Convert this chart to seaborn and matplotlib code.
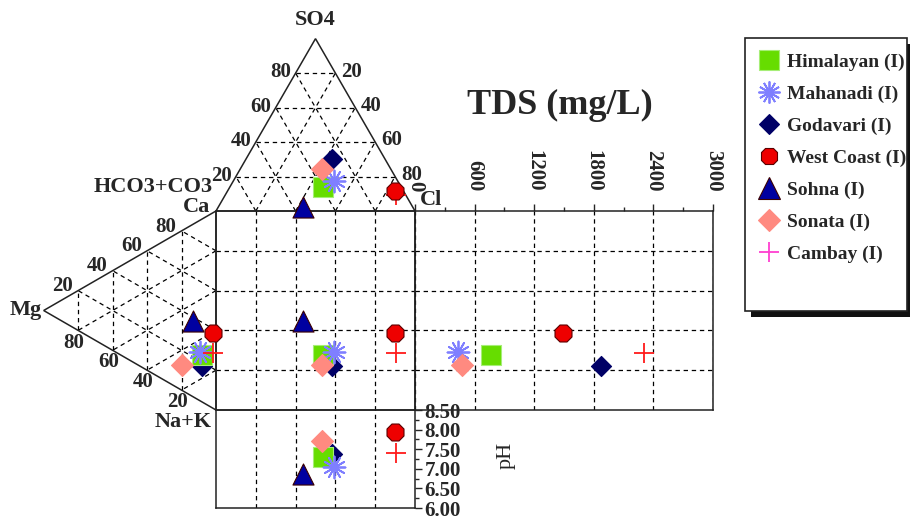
import numpy as np
import pandas as pd
import matplotlib.pyplot as plt
import seaborn as sns
from matplotlib.lines import Line2D
from matplotlib.patches import Rectangle, Polygon

# sample names (legend order)
samples = ['Himalayan (I)', 'Mahanadi (I)', 'Godavari (I)', 'West Coast (I)',
           'Sohna (I)', 'Sonata (I)', 'Cambay (I)']
# anions, % meq/L
so4 = [14.0, 17.3, 29.9, 11.7, 2.3, 24.1, 9.2]
cl = [46.9, 50.6, 43.2, 84.3, 42.6, 41.0, 86.1]
# cations, % meq/L
ca = [23.5, 24.7, 18.0, 37.6, 38.0, 12.7, 28.0]
mg = [8.3, 9.2, 8.3, 1.7, 13.5, 19.8, 1.6]
# TDS (mg/L) and pH
tds = [765, 436, 1872, 1487, np.nan, 470, 2309]
ph = [7.29, 7.05, 7.38, 7.95, 6.87, 7.72, 7.40]

tds_ticks = [0, 600, 1200, 1800, 2400, 3000]
ph_ticks = [6.0, 6.5, 7.0, 7.5, 8.0, 8.5]
pct_ticks = [20, 40, 60, 80]

# marker styles
markers = ['s', (12, 2, 0), 'D', '8', '^', 'D', '+']
colors = ['#66dd00', '#7f7fff', '#000066', '#ee0000', '#0000a0', '#ff8a80', '#ff1a1a']
edges = ['#a6ee77', None, '#000066', '#5a0000', '#3a0000', '#ff8a80', None]
sizes = [190, 250, 105, 175, 230, 125, 200]
legend_colors = colors[:6] + ['#ff3fd0']
draw_order = [2, 0, 1, 6, 3, 4, 5]

sns.set_style('white')
plt.rcParams['font.family'] = ['Liberation Serif', 'DejaVu Serif']
plt.rcParams['font.weight'] = 'bold'

H = np.sqrt(3) / 2
df = pd.DataFrame({'sample': samples, 'so4': so4, 'cl': cl, 'ca': ca, 'mg': mg,
                   'tds': tds, 'ph': ph})
df['ax_x'] = df['cl'] + df['so4'] / 2      # anion triangle / square x
df['ax_y'] = 100 + df['so4'] * H
df['cx'] = -df['mg'] * H                   # cation triangle
df['cy'] = df['ca'] + df['mg'] / 2         # cation triangle / square y

fig = plt.figure(figsize=(9.1, 5.18), dpi=100, facecolor='white')
k = 1.99  # px per percent unit
ax = fig.add_axes([0, 0, 1, 1])
ax.axis('off')

dash = dict(color='black', lw=0.9, ls=(0, (3.5, 3)), zorder=1)

# ---- anion triangle (top)
ax.add_patch(Polygon([(0, 100), (100, 100), (50, 100 + 100 * H)], closed=True,
                     fill=False, ec='#222222', lw=1.1, zorder=2))
for p in pct_ticks:
    ax.plot([p / 2, 100 - p / 2], [100 + p * H] * 2, **dash)
    ax.plot([p, (100 + p) / 2], [100, 100 + (100 - p) * H], **dash)
    ax.plot([100 - p, (100 - p) / 2], [100, 100 + (100 - p) * H], **dash)
    # SO4 labels on left side, Cl labels on right side
    ax.text(p / 2 - 7.3, 100 + p * H + 0.5, str(p), ha='center', va='center', fontsize=15)
    ax.text(p + (100 - p) / 2 + 8.2, 100 + (100 - p) * H + 0.8, str(p),
            ha='center', va='center', fontsize=15)

# ---- cation triangle (left)
ax.add_patch(Polygon([(0, 0), (0, 100), (-100 * H, 50)], closed=True,
                     fill=False, ec='#222222', lw=1.1, zorder=2))
for p in pct_ticks:
    ax.plot([-p * H] * 2, [p / 2, 100 - p / 2], **dash)
    ax.plot([0, -(100 - p) * H], [p, (100 + p) / 2], **dash)
    ax.plot([0, -(100 - p) * H], [100 - p, (100 - p) / 2], **dash)
    # Ca labels on upper side, Mg labels on lower side
    ax.text(-(100 - p) * H - 7.8, (100 + p) / 2 + 2.2, str(p),
            ha='center', va='center', fontsize=15)
    ax.text(-p * H - 2.0, p / 2 - 6.1, str(p), ha='center', va='center', fontsize=15)

# ---- central square
for p in pct_ticks:
    ax.plot([p, p], [0, 100], **dash)
    ax.plot([0, 100], [p, p], **dash)
ax.add_patch(Rectangle((0, 0), 100, 100, fill=False, ec='#222222', lw=1.1, zorder=2))

# corner labels
ax.text(49.7, 196, 'SO4', ha='center', va='center', fontsize=16)
ax.text(-1.5, 112, 'HCO3+CO3', ha='right', va='center', fontsize=16)
ax.text(-3, 102, 'Ca', ha='right', va='center', fontsize=16)
ax.text(102.5, 105.5, 'Cl', ha='left', va='center', fontsize=16)
ax.text(-87.5, 50, 'Mg', ha='right', va='center', fontsize=16)
ax.text(-2, -6, 'Na+K', ha='right', va='center', fontsize=16)

# ---- TDS panel
ax_tds = fig.add_axes([415 / 910, 108 / 518, 298 / 910, 199 / 518])
ax_tds.patch.set_alpha(0)
# ---- pH panel
ax_ph = fig.add_axes([216 / 910, 10 / 518, 199 / 910, 98 / 518])
ax_ph.patch.set_alpha(0)

# ---- points
for i in draw_order:
    row = df.iloc[i]
    kw = dict(marker=markers[i], s=sizes[i], color=colors[i], legend=False, zorder=5)
    if edges[i] is not None:
        kw['edgecolor'] = edges[i]
        kw['linewidth'] = 0.8
    else:
        kw['linewidth'] = 1.3
    spots = [(row.ax_x, row.ax_y, ax), (row.cx, row.cy, ax), (row.ax_x, row.cy, ax),
             (row.tds, row.cy, ax_tds), (row.ax_x, row.ph, ax_ph)]
    for x, y, a in spots:
        if np.isnan(x) or np.isnan(y):
            continue
        sns.scatterplot(x=[x], y=[y], ax=a, **kw)

ax.set_xlim(-216 / k, (910 - 216) / k)
ax.set_ylim(-(518 - 410) / k, 410 / k)

# TDS axes styling
ax_tds.set_xlim(0, 3000)
ax_tds.set_ylim(0, 100)
ax_tds.xaxis.tick_top()
ax_tds.set_xticks(tds_ticks)
ax_tds.set_xticks(np.arange(300, 3000, 600), minor=True)
ax_tds.set_xticklabels([str(t) for t in tds_ticks], rotation=-90, fontsize=15)
ax_tds.set_yticks(pct_ticks)
ax_tds.tick_params(axis='x', which='major', direction='out', length=5, width=1, pad=9,
                   top=True, bottom=False)
ax_tds.tick_params(axis='x', which='minor', direction='out', length=3, width=1,
                   top=True, bottom=False)
ax_tds.tick_params(axis='y', length=0, labelleft=False)
ax_tds.grid(True, which='major', color='black', lw=0.9, ls=(0, (3.5, 3)))
ax_tds.set_xlabel('')
ax_tds.set_ylabel('')
for s in ax_tds.spines.values():
    s.set_color('#222222')
    s.set_linewidth(1.1)

# pH axes styling
ax_ph.set_xlim(0, 100)
ax_ph.set_ylim(6.0, 8.5)
ax_ph.yaxis.tick_right()
ax_ph.set_yticks(ph_ticks)
ax_ph.set_yticks(np.arange(6.25, 8.5, 0.5), minor=True)
ax_ph.set_yticklabels(['%.2f' % t for t in ph_ticks], fontsize=15)
ax_ph.set_xticks(pct_ticks)
ax_ph.tick_params(axis='y', which='major', direction='out', length=5, width=1, pad=2,
                  right=True, left=False)
ax_ph.tick_params(axis='y', which='minor', direction='out', length=3, width=1,
                  right=True, left=False)
ax_ph.tick_params(axis='x', length=0, labelbottom=False)
ax_ph.grid(True, axis='x', color='black', lw=0.9, ls=(0, (3.5, 3)))
ax_ph.set_xlabel('')
ax_ph.yaxis.set_label_position('right')
ax_ph.set_ylabel('pH', rotation=90, fontsize=16)
ax_ph.yaxis.set_label_coords((497 - 216) / 199, 0.54)
for s in ax_ph.spines.values():
    s.set_color('#222222')
    s.set_linewidth(1.1)

fig.text(560 / 910, 1 - 105 / 518, 'TDS (mg/L)', ha='center', va='center', fontsize=26)

# ---- legend box with shadow
fig.add_artist(Rectangle((751 / 910, 1 - 317 / 518), 160 / 910, 273 / 518,
                         transform=fig.transFigure, fc='#111111', ec='none', zorder=3))
fig.add_artist(Rectangle((745 / 910, 1 - 311 / 518), 162 / 910, 273 / 518,
                         transform=fig.transFigure, fc='white', ec='#222222', lw=1.2,
                         zorder=4))
handles = []
for i in range(len(samples)):
    h = Line2D([0], [0], ls='', marker=markers[i], markersize=np.sqrt(sizes[i]),
               color=legend_colors[i], markerfacecolor=legend_colors[i],
               markeredgecolor=edges[i] if edges[i] else legend_colors[i],
               markeredgewidth=0.8 if edges[i] else 1.3)
    handles.append(h)
leg = fig.legend(handles, samples, loc='upper left', bbox_to_anchor=(757 / 910, 1 - 53 / 518),
                 frameon=False, fontsize=14, handlelength=1.2, handletextpad=0.35,
                 labelspacing=0.74, borderpad=0, borderaxespad=0)
leg.set_zorder(6)

fig.savefig('out.png', dpi=100)
